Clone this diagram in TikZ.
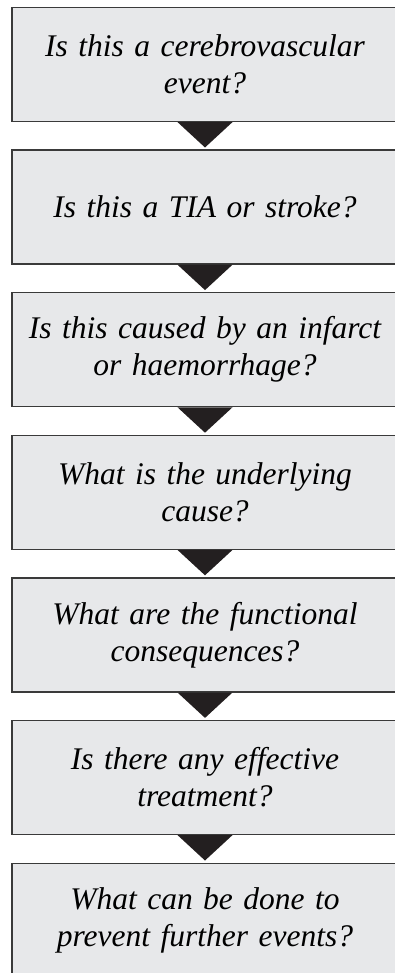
\documentclass[tikz,border=0pt]{standalone}
\usepackage{fontspec}
\setmainfont{Liberation Serif}
\usepackage{tikz}
\usepackage{xcolor}
\usetikzlibrary{positioning}
\definecolor{boxgray}{HTML}{E7E8EA}
\definecolor{edgegray}{HTML}{3A3A3A}
\definecolor{arrowblack}{HTML}{231F20}

\begin{document}
\begin{tikzpicture}[qbox/.style={rectangle, draw=edgegray, line width=1.2pt, fill=boxgray,
                    minimum width=386pt, minimum height=114pt, text width=370pt, align=center,
                    inner sep=0pt, font=\itshape\fontsize{31.5}{37}\selectfont},
                    node distance=27.4pt]
                \useasboundingbox (0,0) rectangle (395pt,-973pt);
                \node[qbox] (q1) at (205pt,-64.5pt) {Is this a cerebrovascular\\event?};
                \node[qbox, below=of q1] (q2) {Is this a TIA or stroke?};
                \node[qbox, below=of q2] (q3) {Is this caused by an infarct\\or haemorrhage?};
                \node[qbox, below=of q3] (q4) {What is the underlying\\cause?};
                \node[qbox, below=of q4] (q5) {What are the functional\\consequences?};
                \node[qbox, below=of q5] (q6) {Is there any effective\\treatment?};
                \node[qbox, below=of q6] (q7) {What can be done to\\prevent further events?};
            
                \foreach \a/\b in {q1/q2, q2/q3, q3/q4, q4/q5, q5/q6, q6/q7}
                    \fill[arrowblack] ([xshift=-27.5pt]\a.south) -- ([xshift=27.5pt]\a.south)
                        -- ([yshift=2pt]\b.north) -- cycle;
            \end{tikzpicture}
\end{document}
